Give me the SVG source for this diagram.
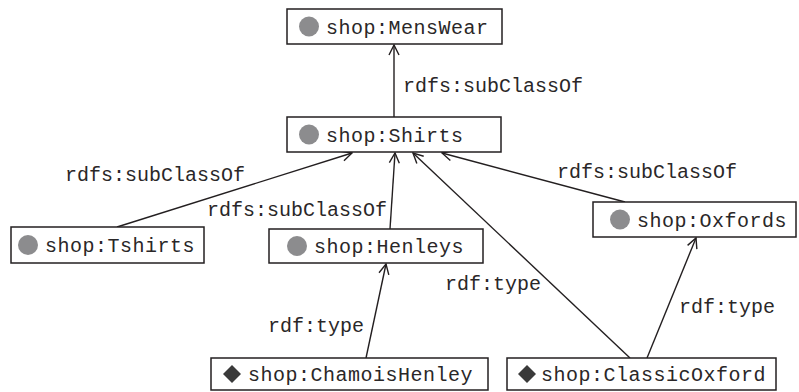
<svg xmlns="http://www.w3.org/2000/svg" width="799" height="392" viewBox="0 0 799 392">
<style>
.box{fill:#fff;stroke:#231f20;stroke-width:1.5}
.nt{font-family:"Liberation Mono","DejaVu Sans Mono",monospace;font-size:20px;letter-spacing:0.5px;fill:#2a2728}
.lt{font-family:"Liberation Mono","DejaVu Sans Mono",monospace;font-size:20px;fill:#2a2728}
.cls{fill:#8c8c8e}
.ind{fill:#3a3a3a}
.edge{stroke:#231f20;stroke-width:1.4;fill:none;marker-end:url(#arr)}
</style>
<defs>
<marker id="arr" viewBox="0 0 12 12" refX="11" refY="6" markerWidth="12" markerHeight="12" markerUnits="userSpaceOnUse" orient="auto">
<path d="M1,1 L11,6 L1,11" fill="none" stroke="#231f20" stroke-width="1.4"/>
</marker>
</defs>
<rect width="799" height="392" fill="#fff"/>
<g id="connectors">
<line class="edge" x1="394" y1="117" x2="394" y2="45"/>
<line class="edge" x1="117" y1="227" x2="352" y2="153"/>
<line class="edge" x1="390" y1="229" x2="395" y2="153"/>
<line class="edge" x1="630" y1="358" x2="413" y2="153"/>
<line class="edge" x1="625" y1="202" x2="442" y2="153"/>
<line class="edge" x1="366" y1="358" x2="386" y2="264"/>
<line class="edge" x1="647" y1="358" x2="696" y2="238"/>
<text class="lt" x="403" y="92">rdfs:subClassOf</text>
<text class="lt" x="65" y="181">rdfs:subClassOf</text>
<text class="lt" x="207" y="216">rdfs:subClassOf</text>
<text class="lt" x="557" y="178">rdfs:subClassOf</text>
<text class="lt" x="445" y="290">rdf:type</text>
<text class="lt" x="268" y="332">rdf:type</text>
<text class="lt" x="679" y="313">rdf:type</text>
</g>
<g id="MensWear">
<rect class="box" x="287" y="9" width="215" height="35"/>
<circle class="cls" cx="309" cy="26.5" r="10"/>
<text class="nt" x="326" y="33.5">shop:MensWear</text>
</g>
<g id="Shirts">
<rect class="box" x="287" y="117" width="214" height="35"/>
<circle class="cls" cx="309" cy="134.5" r="10"/>
<text class="nt" x="326" y="141.5">shop:Shirts</text>
</g>
<g id="Tshirts">
<rect class="box" x="11" y="227" width="193" height="36"/>
<circle class="cls" cx="28" cy="245" r="10"/>
<text class="nt" x="45" y="252">shop:Tshirts</text>
</g>
<g id="Henleys">
<rect class="box" x="269" y="229" width="214" height="34"/>
<circle class="cls" cx="297" cy="246" r="10"/>
<text class="nt" x="314" y="253">shop:Henleys</text>
</g>
<g id="Oxfords">
<rect class="box" x="593" y="202" width="203" height="35"/>
<circle class="cls" cx="620" cy="219.5" r="10"/>
<text class="nt" x="637" y="226.5">shop:Oxfords</text>
</g>
<g id="ChamoisHenley">
<rect class="box" x="211" y="358" width="277" height="32"/>
<path class="ind" d="M232,365 L241,374 L232,383 L223,374 Z"/>
<text class="nt" x="248" y="381">shop:ChamoisHenley</text>
</g>
<g id="ClassicOxford">
<rect class="box" x="507" y="358" width="269" height="32"/>
<path class="ind" d="M527,365 L536,374 L527,383 L518,374 Z"/>
<text class="nt" x="541" y="381">shop:ClassicOxford</text>
</g>
</svg>
